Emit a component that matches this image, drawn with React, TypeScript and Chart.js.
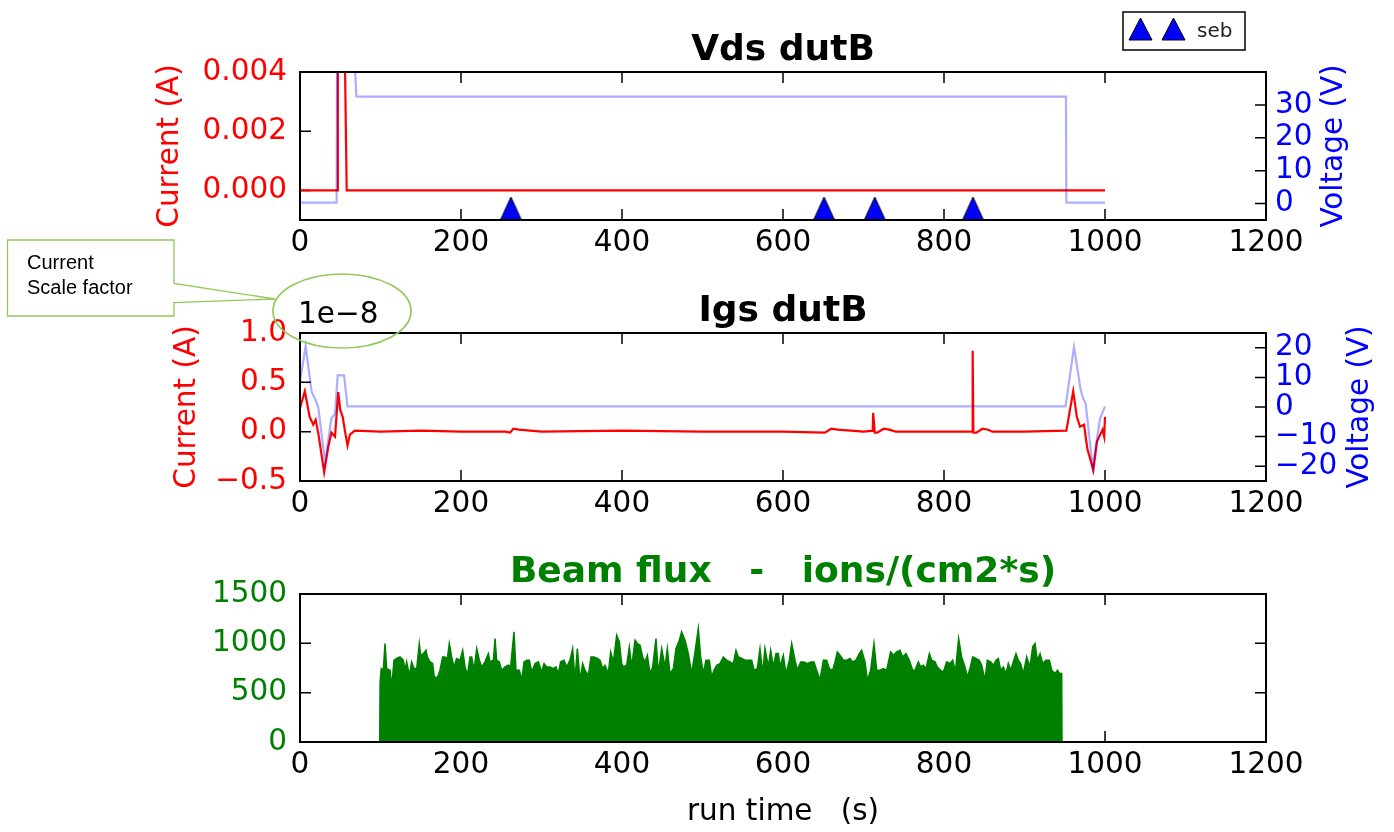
import React, { useEffect, useRef } from "react";
import { Chart, registerables } from "chart.js";

Chart.register(...registerables);

const FONT = "'DejaVu Sans', sans-serif";
const TICK_SIZE = 29.5;
const TITLE_SIZE = 36;

// ---------- shared x axis ----------
const xTicks = [0, 200, 400, 600, 800, 1000, 1200];

// ---------- panel 1 : Vds dutB ----------
const vdsCurrentTime = [0, 46, 47, 55, 58, 1000];
const vdsCurrent = [0, 0, 0.006, 0.006, 0, 0];
const vdsVoltageTime = [0, 45.5, 46, 67, 70, 951.5, 952, 1000];
const vdsVoltage = [0.3, 0.3, 48, 48, 32.5, 32.5, 0.3, 0.3];
const sebTime = [262, 651, 714, 836];
const sebLevel = [-0.00061, -0.00061, -0.00061, -0.00061];
const vdsCurrentTicks = [0, 0.002, 0.004];
const vdsVoltageTicks = [0, 10, 20, 30];

// ---------- panel 2 : Igs dutB (current in units of 1e-8 A) ----------
const igsCurrentTime = [
  0, 6, 12, 16.5, 19.5, 23, 30, 35, 39, 43.5,
  47.5, 50, 53, 56, 59, 62, 68, 100, 150, 200,
  255, 261, 265, 272, 300, 400, 500, 600, 652, 660,
  668, 700, 711.5, 712, 712.8, 714, 717, 725, 732, 740,
  800, 835, 835.6, 836.5, 840, 848, 855, 860, 900, 952,
  960.5, 965, 969, 974, 978, 985.5, 990, 994, 997, 999,
  1000,
];
const igsCurrent = [
  0.24, 0.41, 0.15, 0.07, 0.12, -0.03, -0.41, -0.16, -0.01, -0.05,
  0.4, 0.22, 0.15, 0.0, -0.14, -0.03, 0.01, 0.0, 0.01, 0.0,
  0.0, -0.01, 0.03, 0.02, 0.0, 0.01, 0.0, 0.0, -0.01, 0.03,
  0.02, 0.0, 0.01, 0.19, 0.19, -0.01, -0.01, 0.03, 0.02, 0.0,
  0.0, 0.0, 0.82, -0.01, -0.01, 0.03, 0.02, 0.0, 0.0, 0.01,
  0.41, 0.15, 0.05, 0.07, -0.17, -0.39, -0.1, -0.03, 0.02, -0.05,
  0.15,
];
const igsVoltageTime = [
  0, 7, 14.5, 19.5, 22.7, 31, 39, 43.5, 46.8, 54.7,
  59, 951, 961.5, 969.8, 973, 976, 984.7, 993.8, 1000,
];
const igsVoltage = [
  8.5, 20.6, 5.1, 2.3, 0, -18.6, -3.9, -2.3, 10.7, 10.7,
  0.2, 0.2, 20.3, 5.7, 2.8, 1.1, -20.3, -3.9, 0.2,
];
const igsCurrentTicks = [-0.5, 0, 0.5, 1.0];
const igsVoltageTicks = [-20, -10, 0, 10, 20];

// ---------- panel 3 : Beam flux ----------
const fluxTime = [
  0, 99, 99.5, 101, 103.5, 105.6, 107.7, 111.8, 113.9, 116.8,
  120.1, 124.2, 128.4, 130.4, 132.5, 135.8, 138.7, 141.6, 145.0, 148.2,
  149.9, 153.2, 156.5, 158.2, 161.5, 164.8, 166.5, 169.0, 171.8, 173.9,
  177.2, 180.1, 183.0, 185.5, 188.4, 191.3, 194.6, 198.8, 202.1, 205.0,
  207.9, 211.2, 213.3, 216.2, 219.5, 222.8, 225.7, 229.8, 234.0, 236.0,
  240.2, 242.3, 244.3, 247.6, 250.5, 254.7, 258.8, 261.7, 265.8, 268.3,
  272.5, 275.4, 278.3, 281.6, 284.9, 287.8, 292.0, 296.1, 300.2, 303.1,
  306.4, 310.6, 314.7, 318.0, 320.9, 323.8, 328.0, 331.3, 335.4, 338.7,
  341.6, 344.5, 347.8, 351.1, 354.0, 358.2, 361.5, 365.2, 369.4, 372.7,
  376.0, 378.9, 383.0, 385.9, 389.3, 393.4, 396.7, 399.6, 401.7, 405.8,
  409.1, 412.0, 416.2, 419.1, 422.4, 425.7, 428.6, 431.5, 434.8, 438.1,
  442.2, 445.1, 449.3, 453.4, 456.3, 459.6, 463.8, 467.1, 471.2, 474.1,
  478.3, 482.4, 486.5, 490.7, 494.8, 497.7, 501.0, 504.3, 508.5, 511.4,
  514.3, 517.6, 521.7, 525.9, 530.0, 534.2, 538.3, 541.6, 544.5, 548.7,
  552.8, 557.0, 561.1, 564.0, 568.1, 571.4, 574.7, 577.6, 581.8, 584.7,
  588.0, 591.3, 594.2, 596.3, 600.4, 603.7, 607.9, 610.8, 614.9, 617.8,
  621.9, 626.1, 630.2, 634.4, 638.5, 641.8, 646.0, 650.1, 654.2, 657.6,
  661.7, 664.6, 667.5, 670.8, 675.0, 679.1, 683.2, 686.5, 690.7, 694.8,
  697.7, 701.9, 704.8, 708.9, 713.0, 716.4, 720.5, 724.6, 728.8, 733.7,
  737.1, 741.2, 745.3, 748.7, 752.8, 756.9, 761.1, 764.0, 768.1, 771.0,
  774.3, 777.6, 781.8, 784.7, 788.8, 791.7, 795.9, 799.2, 803.3, 807.5,
  810.8, 814.1, 818.2, 821.9, 826.1, 829.0, 832.3, 835.6, 839.7, 843.9,
  846.8, 850.9, 853.8, 857.9, 861.3, 864.6, 867.5, 870.4, 873.7, 877.0,
  879.9, 882.8, 886.1, 889.4, 892.3, 895.2, 898.5, 902.7, 906.8, 910.2,
  913.1, 915.9, 919.3, 922.6, 926.7, 930.9, 933.8, 937.9, 940.8, 944.1,
  946.2, 946.6, 1000,
];
const flux = [
  0, 0, 608, 744, 727, 998, 744, 727, 558, 829,
  846, 862, 829, 727, 812, 676, 812, 744, 744, 998,
  879, 896, 930, 862, 812, 795, 676, 642, 676, 727,
  862, 862, 846, 998, 862, 761, 846, 829, 930, 761,
  676, 862, 862, 727, 947, 829, 761, 812, 896, 812,
  829, 1048, 829, 812, 727, 761, 778, 761, 1116, 727,
  727, 626, 812, 829, 829, 710, 795, 812, 710, 795,
  761, 761, 744, 761, 693, 812, 829, 761, 829, 947,
  626, 947, 626, 795, 727, 676, 862, 862, 846, 829,
  744, 778, 693, 913, 812, 1082, 1015, 795, 761, 778,
  964, 761, 1031, 998, 981, 862, 812, 879, 693, 761,
  1048, 693, 947, 761, 947, 693, 744, 947, 1031, 1116,
  1031, 896, 693, 913, 1150, 862, 693, 829, 829, 659,
  727, 778, 795, 862, 829, 812, 795, 930, 862, 846,
  829, 829, 829, 727, 744, 947, 693, 947, 761, 930,
  761, 896, 896, 761, 879, 693, 829, 998, 829, 727,
  812, 812, 795, 812, 812, 727, 626, 829, 829, 744,
  727, 812, 913, 879, 829, 829, 846, 812, 829, 896,
  930, 812, 626, 727, 998, 727, 727, 744, 727, 913,
  879, 913, 930, 862, 896, 829, 727, 727, 812, 761,
  778, 744, 896, 829, 812, 761, 727, 710, 812, 795,
  829, 710, 1048, 862, 761, 659, 744, 862, 846, 829,
  778, 626, 829, 812, 778, 829, 846, 727, 761, 693,
  795, 727, 812, 896, 829, 795, 693, 862, 761, 964,
  998, 829, 896, 795, 829, 829, 727, 693, 727, 693,
  693, 0, 0,
];
const fluxTicks = [0, 500, 1000, 1500];

// ---------- helpers ----------
const pts = (xs: number[], ys: number[]) => xs.map((x, i) => ({ x, y: ys[i] }));
const fmt = (v: number, d: number) => (v < 0 ? "\u2212" : "") + Math.abs(v).toFixed(d);

function makeTriangle(w: number, h: number) {
  const c = document.createElement("canvas");
  c.width = w;
  c.height = h;
  const g = c.getContext("2d")!;
  g.beginPath();
  g.moveTo(w / 2, 1);
  g.lineTo(w - 1, h - 1);
  g.lineTo(1, h - 1);
  g.closePath();
  g.fillStyle = "#0000ff";
  g.fill();
  g.lineWidth = 1;
  g.strokeStyle = "#000";
  g.stroke();
  return c;
}

type Label = { text: string; color: string; x: number };
interface PanelCfg {
  title: string;
  titleColor: string;
  left?: Label;
  right?: Label;
  xLabel?: string;
  offsetText?: string;
  mirrorLeft?: boolean;
}

function panelPlugin(cfg: PanelCfg) {
  return {
    id: "panelDecor",
    beforeDatasetsDraw(chart: any) {
      // inward tick marks (drawn under the data lines)
      const { ctx, chartArea: a, scales } = chart;
      const TL = 11;
      ctx.save();
      ctx.strokeStyle = "#000";
      ctx.lineWidth = 1.5;
      ctx.beginPath();
      const xs = scales.x;
      xs.ticks.forEach((t: any) => {
        const p = xs.getPixelForValue(t.value);
        ctx.moveTo(p, a.bottom);
        ctx.lineTo(p, a.bottom - TL);
        ctx.moveTo(p, a.top);
        ctx.lineTo(p, a.top + TL);
      });
      const yl = scales.yl;
      yl.ticks.forEach((t: any) => {
        const p = yl.getPixelForValue(t.value);
        ctx.moveTo(a.left, p);
        ctx.lineTo(a.left + TL, p);
        if (cfg.mirrorLeft) {
          ctx.moveTo(a.right, p);
          ctx.lineTo(a.right - TL, p);
        }
      });
      const yr = scales.yr;
      if (yr) {
        yr.ticks.forEach((t: any) => {
          const p = yr.getPixelForValue(t.value);
          ctx.moveTo(a.right, p);
          ctx.lineTo(a.right - TL, p);
        });
      }
      ctx.stroke();
      ctx.restore();
    },
    afterDraw(chart: any) {
      const { ctx, chartArea: a } = chart;
      ctx.save();
      ctx.strokeStyle = "#000";
      ctx.lineWidth = 2;
      ctx.strokeRect(a.left, a.top, a.right - a.left, a.bottom - a.top);

      // title
      ctx.fillStyle = cfg.titleColor;
      ctx.font = `bold ${TITLE_SIZE}px ${FONT}`;
      ctx.textAlign = "center";
      ctx.textBaseline = "alphabetic";
      ctx.fillText(cfg.title, (a.left + a.right) / 2, a.top - 12);

      const cy = (a.top + a.bottom) / 2;
      const vert = (l: Label) => {
        ctx.save();
        ctx.translate(l.x, cy);
        ctx.rotate(-Math.PI / 2);
        ctx.fillStyle = l.color;
        ctx.font = `${TICK_SIZE}px ${FONT}`;
        ctx.textAlign = "center";
        ctx.textBaseline = "middle";
        ctx.fillText(l.text, 0, 0);
        ctx.restore();
      };
      if (cfg.left) vert(cfg.left);
      if (cfg.right) vert(cfg.right);

      if (cfg.offsetText) {
        ctx.fillStyle = "#000";
        ctx.font = `${TICK_SIZE}px ${FONT}`;
        ctx.textAlign = "left";
        ctx.textBaseline = "alphabetic";
        ctx.fillText(cfg.offsetText, a.left - 2, a.top - 10);
      }
      if (cfg.xLabel) {
        ctx.fillStyle = "#000";
        ctx.font = `${TICK_SIZE}px ${FONT}`;
        ctx.textAlign = "center";
        ctx.textBaseline = "alphabetic";
        ctx.fillText(cfg.xLabel, (a.left + a.right) / 2, a.bottom + 78);
      }
      ctx.restore();
    },
  };
}

const tickFont = { family: FONT, size: TICK_SIZE };

function xScale(height: number) {
  return {
    type: "linear",
    min: 0,
    max: 1200,
    grid: { display: false, drawTicks: false },
    border: { display: false },
    ticks: {
      font: tickFont,
      color: "#000",
      padding: 6,
      autoSkip: false,
      maxRotation: 0,
      minRotation: 0,
      callback: (v: number) => String(v),
    },
    afterBuildTicks: (s: any) => {
      s.ticks = xTicks.map((value) => ({ value }));
    },
    afterFit: (s: any) => {
      s.height = height;
      s.paddingLeft = 0;
      s.paddingRight = 0;
    },
  };
}

function yScale(
  position: string,
  min: number,
  max: number,
  ticks: number[],
  color: string,
  width: number,
  padding: number,
  format: (v: number) => string
) {
  return {
    type: "linear",
    position,
    min,
    max,
    grid: { display: false, drawTicks: false },
    border: { display: false },
    ticks: {
      font: tickFont,
      color,
      padding,
      autoSkip: false,
      callback: (v: number) => format(v),
    },
    afterBuildTicks: (s: any) => {
      s.ticks = ticks.map((value) => ({ value }));
    },
    afterFit: (s: any) => {
      s.width = width;
      s.paddingTop = 0;
      s.paddingBottom = 0;
    },
  };
}

const baseOptions = (padding: any) => ({
  animation: false,
  responsive: false,
  events: [],
  layout: { padding },
  plugins: { legend: { display: false }, tooltip: { enabled: false }, title: { display: false } },
  elements: { line: { tension: 0 }, point: { radius: 0 } },
});

const BLUE_LINE = "rgba(0,0,255,0.32)";
const RED_LINE = "#ff0000";

export default function App() {
  const c1 = useRef<HTMLCanvasElement>(null);
  const c2 = useRef<HTMLCanvasElement>(null);
  const c3 = useRef<HTMLCanvasElement>(null);

  useEffect(() => {
    const tri = makeTriangle(23, 25);
    const charts: Chart[] = [];

    charts.push(
      new Chart(c1.current!, {
        type: "line",
        data: {
          datasets: [
            {
              label: "seb",
              data: pts(sebTime, sebLevel),
              yAxisID: "yl",
              showLine: false,
              pointStyle: tri as any,
              pointRadius: 11,
              clip: false as any,
              order: 0,
            },
            {
              label: "Vds voltage",
              data: pts(vdsVoltageTime, vdsVoltage),
              yAxisID: "yr",
              borderColor: BLUE_LINE,
              borderWidth: 2.2,
              pointRadius: 0,
              order: 1,
            },
            {
              label: "Vds current",
              data: pts(vdsCurrentTime, vdsCurrent),
              yAxisID: "yl",
              borderColor: RED_LINE,
              borderWidth: 2.2,
              pointRadius: 0,
              order: 2,
            },
          ],
        },
        options: {
          ...baseOptions({ top: 72, left: 0, right: 0, bottom: 0 }),
          scales: {
            x: xScale(50),
            yl: yScale("left", -0.001, 0.004, vdsCurrentTicks, "#ff0000", 300, 13, (v) => v.toFixed(3)),
            yr: yScale("right", -5, 40, vdsVoltageTicks, "#0000ff", 128, 9, (v) => fmt(v, 0)),
          },
        } as any,
        plugins: [
          panelPlugin({
            title: "Vds dutB",
            titleColor: "#000",
            left: { text: "Current (A)", color: "#ff0000", x: 170.5 },
            right: { text: "Voltage (V)", color: "#0000ff", x: 1334 },
          }) as any,
        ],
      })
    );

    charts.push(
      new Chart(c2.current!, {
        type: "line",
        data: {
          datasets: [
            {
              label: "Igs voltage",
              data: pts(igsVoltageTime, igsVoltage),
              yAxisID: "yr",
              borderColor: BLUE_LINE,
              borderWidth: 2.2,
              pointRadius: 0,
              order: 1,
            },
            {
              label: "Igs current",
              data: pts(igsCurrentTime, igsCurrent),
              yAxisID: "yl",
              borderColor: RED_LINE,
              borderWidth: 2.2,
              pointRadius: 0,
              order: 2,
            },
          ],
        },
        options: {
          ...baseOptions({ top: 63, left: 0, right: 0, bottom: 0 }),
          scales: {
            x: xScale(49),
            yl: yScale("left", -0.5, 1.0, igsCurrentTicks, "#ff0000", 300, 13, (v) => fmt(v, 1)),
            yr: yScale("right", -25, 25, igsVoltageTicks, "#0000ff", 128, 9, (v) => fmt(v, 0)),
          },
        } as any,
        plugins: [
          panelPlugin({
            title: "Igs dutB",
            titleColor: "#000",
            left: { text: "Current (A)", color: "#ff0000", x: 187.5 },
            right: { text: "Voltage (V)", color: "#0000ff", x: 1360 },
            offsetText: "1e\u22128",
          }) as any,
        ],
      })
    );

    charts.push(
      new Chart(c3.current!, {
        type: "line",
        data: {
          datasets: [
            {
              label: "Beam flux",
              data: pts(fluxTime, flux),
              yAxisID: "yl",
              borderColor: "#008000",
              backgroundColor: "#008000",
              borderWidth: 1.5,
              fill: "origin",
              pointRadius: 0,
            },
          ],
        },
        options: {
          ...baseOptions({ top: 64, left: 0, right: 128, bottom: 0 }),
          scales: {
            x: xScale(90),
            yl: yScale("left", 0, 1500, fluxTicks, "#008000", 300, 13, (v) => String(v)),
          },
        } as any,
        plugins: [
          panelPlugin({
            title: "Beam flux   -   ions/(cm2*s)",
            titleColor: "#008000",
            xLabel: "run time   (s)",
            mirrorLeft: true,
          }) as any,
        ],
      })
    );

    return () => charts.forEach((c) => c.destroy());
  }, []);

  const green = "#92c85a";
  const abs = (top: number): React.CSSProperties => ({ position: "absolute", left: 0, top, display: "block" });

  return (
    <div style={{ position: "absolute", left: 0, top: 0, width: 1394, height: 832, overflow: "hidden", background: "#fff" }}>
      <canvas ref={c1} width={1394} height={270} style={abs(0)} />
      <canvas ref={c2} width={1394} height={260} style={abs(270)} />
      <canvas ref={c3} width={1394} height={302} style={abs(530)} />
      <svg width={1394} height={832} style={{ position: "absolute", left: 0, top: 0, pointerEvents: "none" }}>
        {/* legend */}
        <rect x={1123} y={12} width={122} height={38} fill="#fff" stroke="#000" strokeWidth={1.5} />
        <polygon points="1129,40 1140.5,18 1152,40" fill="#0000ff" stroke="#000" strokeWidth={1} />
        <polygon points="1162,40 1173.5,18 1185,40" fill="#0000ff" stroke="#000" strokeWidth={1} />
        <text x={1197} y={37} fontFamily="'DejaVu Sans', sans-serif" fontSize={20} fill="#222">
          seb
        </text>
        {/* callout */}
        <path
          d="M7.5 240 H174 V283.5 L275 299 L174 302.7 V316 H7.5 Z"
          fill="#fff"
          stroke={green}
          strokeWidth={1.3}
        />
        <text x={27} y={269} fontFamily="'Liberation Sans', Arial, sans-serif" fontSize={20} fill="#000">
          Current
        </text>
        <text x={27} y={294} fontFamily="'Liberation Sans', Arial, sans-serif" fontSize={20} fill="#000">
          Scale factor
        </text>
        <ellipse cx={342} cy={311} rx={69} ry={37} fill="none" stroke={green} strokeWidth={1.7} />
      </svg>
    </div>
  );
}
